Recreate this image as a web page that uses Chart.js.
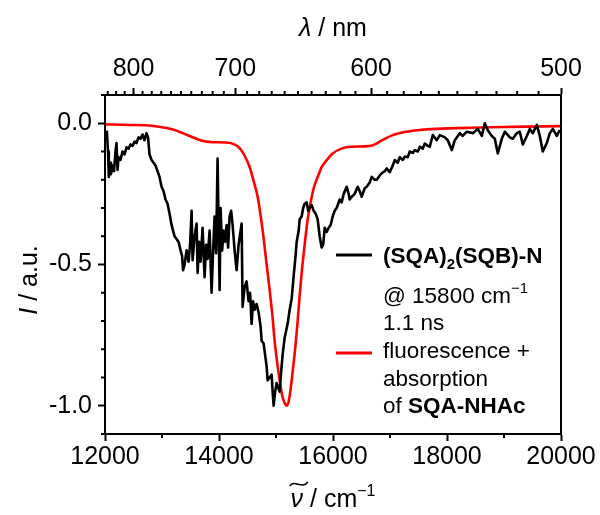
<!DOCTYPE html>
<html>
<head>
<meta charset="utf-8">
<script src="https://cdn.jsdelivr.net/npm/chart.js@4"></script>
<style>
  html, body { margin: 0; padding: 0; background: #fff; }
  #wrap { width: 600px; height: 515px; }
</style>
</head>
<body>
<div id="wrap"><canvas id="spectra" width="600" height="515"></canvas></div>
<script>
// transient signal of (SQA)2(SQB)-N, wavenumber in cm-1
const blackNu = [
  12032, 12053, 12067, 12088, 12105, 12132, 12158, 12184, 12202, 12220,
  12237, 12272, 12307, 12342, 12378, 12413, 12448, 12483, 12518, 12553,
  12588, 12623, 12658, 12693, 12729, 12755, 12781, 12817, 12852, 12887,
  12922, 12957, 12992, 13027, 13062, 13097, 13133, 13168, 13194, 13220,
  13255, 13291, 13326, 13352, 13370, 13396, 13431, 13466, 13493, 13519,
  13537, 13572, 13607, 13625, 13651, 13677, 13712, 13747, 13774, 13800,
  13835, 13870, 13897, 13923, 13949, 13975, 14011, 14028, 14055, 14081,
  14107, 14134, 14160, 14186, 14213, 14239, 14274, 14309, 14344, 14379,
  14397, 14414, 14449, 14484, 14519, 14546, 14572, 14598, 14625, 14660,
  14695, 14730, 14748, 14783, 14809, 14835, 14853, 14888, 14923, 14941,
  14958, 14985, 15011, 15046, 15064, 15090, 15116, 15151, 15204, 15240,
  15275, 15310, 15336, 15363, 15398, 15415, 15450, 15477, 15503, 15538,
  15565, 15591, 15626, 15661, 15696, 15731, 15766, 15801, 15828, 15854,
  15889, 15924, 15959, 15994, 16029, 16064, 16117, 16152, 16187, 16240,
  16275, 16292, 16328, 16380, 16433, 16468, 16503, 16556, 16591, 16644,
  16679, 16732, 16767, 16820, 16855, 16907, 16943, 16995, 17048, 17083,
  17136, 17171, 17224, 17259, 17312, 17347, 17400, 17435, 17488, 17523,
  17575, 17611, 17663, 17698, 17751, 17821, 17874, 17962, 18014, 18084,
  18137, 18224, 18277, 18347, 18453, 18540, 18611, 18663, 18716, 18786,
  18839, 18891, 18961, 19014, 19102, 19154, 19225, 19277, 19330, 19400,
  19453, 19505, 19575, 19628, 19681, 19751, 19804, 19856, 19926, 19979
];
const blackSignal = [
  -0.026, -0.10, -0.19, -0.14, -0.18, -0.15, -0.17, -0.10, -0.07, -0.165,
  -0.12, -0.13, -0.10, -0.11, -0.085, -0.09, -0.075, -0.08, -0.065, -0.07,
  -0.05, -0.055, -0.04, -0.06, -0.035, -0.05, -0.11, -0.13, -0.14, -0.15,
  -0.17, -0.19, -0.225, -0.24, -0.27, -0.285, -0.32, -0.36, -0.38, -0.40,
  -0.41, -0.42, -0.45, -0.47, -0.52, -0.50, -0.45, -0.49, -0.43, -0.31,
  -0.485, -0.40, -0.355, -0.53, -0.42, -0.49, -0.37, -0.545, -0.43, -0.48,
  -0.38, -0.60, -0.45, -0.33, -0.46, -0.125, -0.59, -0.30, -0.45, -0.38,
  -0.42, -0.36, -0.44, -0.33, -0.31, -0.36, -0.45, -0.52, -0.43, -0.38,
  -0.355, -0.65, -0.58, -0.56, -0.63, -0.60, -0.71, -0.63, -0.66, -0.64,
  -0.67, -0.72, -0.77, -0.78, -0.82, -0.86, -0.91, -0.90, -0.89, -0.95,
  -1.00, -0.95, -0.92, -0.94, -0.95, -0.88, -0.82, -0.76, -0.71, -0.66,
  -0.62, -0.54, -0.485, -0.42, -0.38, -0.34, -0.33, -0.30, -0.285, -0.28,
  -0.31, -0.30, -0.29, -0.31, -0.32, -0.34, -0.40, -0.44, -0.43, -0.37,
  -0.385, -0.37, -0.36, -0.33, -0.31, -0.30, -0.27, -0.28, -0.25, -0.225,
  -0.25, -0.27, -0.26, -0.25, -0.225, -0.24, -0.26, -0.23, -0.225, -0.21,
  -0.19, -0.20, -0.20, -0.185, -0.177, -0.17, -0.16, -0.173, -0.15, -0.13,
  -0.14, -0.12, -0.13, -0.118, -0.12, -0.10, -0.105, -0.095, -0.10, -0.083,
  -0.09, -0.072, -0.08, -0.083, -0.042, -0.06, -0.042, -0.05, -0.06, -0.095,
  -0.06, -0.035, -0.045, -0.03, -0.035, -0.02, -0.045, 0.0, -0.025, -0.045,
  -0.055, -0.107, -0.055, -0.03, -0.05, -0.055, -0.035, -0.03, -0.075, -0.045,
  -0.02, -0.035, -0.006, -0.045, -0.10, -0.07, -0.035, -0.02, -0.045, -0.024
];

// fluorescence + absorption of SQA-NHAc
const redNu = [
  12000, 12430, 12781, 13080, 13220, 13361, 13519, 13659, 13782, 13888,
  14099, 14239, 14362, 14450, 14537, 14608, 14678, 14766, 14836, 14888,
  14941, 14976, 15029, 15064, 15116, 15151, 15187, 15222, 15257, 15292,
  15345, 15380, 15415, 15450, 15503, 15556, 15608, 15661, 15731, 15801,
  15854, 15994, 16170, 16346, 16521, 16697, 16873, 17048, 17294, 17523,
  17821, 18400, 19102, 20000
];
const redSignal = [
  -0.004, -0.006, -0.008, -0.017, -0.024, -0.035, -0.048, -0.059, -0.065, -0.067,
  -0.068, -0.072, -0.088, -0.115, -0.155, -0.205, -0.26, -0.38, -0.50, -0.59,
  -0.69, -0.77, -0.86, -0.91, -0.97, -0.99, -1.0, -0.985, -0.94, -0.88,
  -0.78, -0.70, -0.61, -0.53, -0.43, -0.34, -0.28, -0.23, -0.19, -0.155,
  -0.14, -0.107, -0.088, -0.083, -0.082, -0.078, -0.059, -0.042, -0.03, -0.024,
  -0.02, -0.016, -0.013, -0.01
];

// axis ticks
const nuTicks = [12000, 14000, 16000, 18000, 20000];
const nmTicks = [800, 700, 600, 500];
const signalTicks = [-1.0, -0.5, 0.0];

const FAMILY = "'Liberation Sans', Arial, sans-serif";
const font = (size, style = '') => `${style} ${size}px ${FAMILY}`;

const toPoints = (xs, ys) => xs.map((x, i) => ({ x, y: ys[i] }));

// draws a row of text pieces (sub/superscripts via dy), returns their positions
const drawRuns = (ctx, runs, x, y, align) => {
  let total = 0;
  runs.forEach(r => {
    ctx.font = r.font;
    r.w = ctx.measureText(r.text).width;
    total += r.w;
  });
  let cx = align === 'center' ? x - total / 2 : x;
  runs.forEach(r => {
    ctx.font = r.font;
    r.x = cx;
    ctx.fillText(r.text, cx, y + (r.dy || 0));
    cx += r.w;
  });
  return runs;
};

const frameAndLabels = {
  id: 'frameAndLabels',
  afterDraw(chart) {
    const ctx = chart.ctx;
    const a = chart.chartArea;
    const { x, xTop, y } = chart.scales;
    const line = (x1, y1, x2, y2) => {
      ctx.beginPath(); ctx.moveTo(x1, y1); ctx.lineTo(x2, y2); ctx.stroke();
    };
    ctx.save();
    ctx.strokeStyle = '#000';
    ctx.fillStyle = '#000';
    ctx.lineWidth = 2;

    // minor ticks
    for (let v = 13000; v < 20000; v += 2000) {
      const px = x.getPixelForValue(v);
      line(px, a.bottom, px, a.bottom + 4);
    }
    for (let nm = 830; nm > 500; nm -= 10) {
      if (nm % 100 === 0) continue;
      const px = xTop.getPixelForValue(1e7 / nm);
      line(px, a.top, px, a.top - 4);
    }
    for (let k = -11; k <= 1; k++) {
      if (k % 5 === 0) continue;
      const py = y.getPixelForValue(k / 10);
      line(a.left, py, a.left - 4, py);
    }
    ctx.strokeRect(a.left, a.top, a.right - a.left, a.bottom - a.top);

    // axis titles
    ctx.textAlign = 'left';
    ctx.textBaseline = 'alphabetic';
    drawRuns(ctx, [
      { text: 'λ', font: font(25, 'italic') },
      { text: ' / nm', font: font(25) }
    ], (a.left + a.right) / 2, 36, 'center');

    const nuRuns = drawRuns(ctx, [
      { text: 'ν', font: font(25, 'italic') },
      { text: ' / cm', font: font(25) },
      { text: '−1', font: font(16), dy: -11 }
    ], (a.left + a.right) / 2, 507, 'center');
    const tx = nuRuns[0].x + nuRuns[0].w / 2 + 2;
    const ty = 507 - 23;
    ctx.lineWidth = 1.6;
    ctx.beginPath();
    ctx.moveTo(tx - 9, ty + 2);
    ctx.bezierCurveTo(tx - 4, ty - 5, tx + 3, ty + 6, tx + 9, ty - 2);
    ctx.stroke();

    ctx.save();
    ctx.translate(37, 280);
    ctx.rotate(-Math.PI / 2);
    drawRuns(ctx, [
      { text: 'I', font: font(25, 'italic') },
      { text: ' / a.u.', font: font(25) }
    ], 0, 0, 'center');
    ctx.restore();

    // legend
    const ds = chart.data.datasets;
    ctx.lineWidth = 3;
    ctx.strokeStyle = ds[0].borderColor;
    line(336, 255, 372, 255);
    ctx.strokeStyle = ds[1].borderColor;
    line(336, 353, 372, 353);

    const tx0 = 383;
    drawRuns(ctx, [
      { text: '(SQA)', font: font(22.5, 'bold') },
      { text: '2', font: font(15, 'bold'), dy: 6 },
      { text: '(SQB)-N', font: font(22.5, 'bold') }
    ], tx0, 263);
    drawRuns(ctx, [
      { text: '@ 15800 cm', font: font(22.5) },
      { text: '−1', font: font(15), dy: -10 }
    ], tx0, 303);
    drawRuns(ctx, [{ text: '1.1 ns', font: font(22.5) }], tx0, 330);
    drawRuns(ctx, [{ text: 'fluorescence +', font: font(22.5) }], tx0, 358);
    drawRuns(ctx, [{ text: 'absorption', font: font(22.5) }], tx0, 386);
    drawRuns(ctx, [
      { text: 'of ', font: font(22.5) },
      { text: 'SQA-NHAc', font: font(22.5, 'bold') }
    ], tx0, 413);
    ctx.restore();
  }
};

const axisGrid = { drawOnChartArea: false, tickLength: 7, tickWidth: 2, tickColor: '#000' };
const axisBorder = { width: 2, color: '#000' };
const tickFont = { family: FAMILY, size: 25 };

new Chart(document.getElementById('spectra'), {
  type: 'line',
  data: {
    datasets: [
      {
        label: '(SQA)2(SQB)-N',
        data: toPoints(blackNu, blackSignal),
        borderColor: '#000000',
        borderWidth: 2.6,
        borderJoinStyle: 'round',
        pointRadius: 0,
        tension: 0
      },
      {
        label: 'fluorescence + absorption of SQA-NHAc',
        data: toPoints(redNu, redSignal),
        borderColor: '#ff0000',
        borderWidth: 2.6,
        pointRadius: 0,
        cubicInterpolationMode: 'monotone'
      }
    ]
  },
  options: {
    responsive: false,
    animation: false,
    layout: { padding: { right: 39 } },
    plugins: { legend: { display: false }, tooltip: { enabled: false } },
    scales: {
      x: {
        type: 'linear',
        position: 'bottom',
        min: 12000,
        max: 20000,
        afterBuildTicks: s => { s.ticks = nuTicks.map(value => ({ value })); },
        afterFit: s => { s.height = 81; },
        ticks: { font: tickFont, color: '#000', padding: 1, maxRotation: 0, autoSkip: false,
                 callback: v => String(v) },
        grid: axisGrid,
        border: axisBorder
      },
      xTop: {
        type: 'linear',
        position: 'top',
        min: 12000,
        max: 20000,
        afterBuildTicks: s => { s.ticks = nmTicks.map(nm => ({ value: 1e7 / nm })); },
        afterFit: s => { s.height = 95; },
        ticks: { font: tickFont, color: '#000', padding: 4, maxRotation: 0, autoSkip: false,
                 callback: v => String(Math.round(1e7 / v)) },
        grid: axisGrid,
        border: axisBorder
      },
      y: {
        type: 'linear',
        position: 'left',
        min: -1.1,
        max: 0.1,
        afterBuildTicks: s => { s.ticks = signalTicks.map(value => ({ value })); },
        afterFit: s => { s.width = 105; },
        ticks: { font: tickFont, color: '#000', padding: 6, callback: v => v.toFixed(1) },
        grid: axisGrid,
        border: axisBorder
      }
    }
  },
  plugins: [frameAndLabels]
});
</script>
</body>
</html>
